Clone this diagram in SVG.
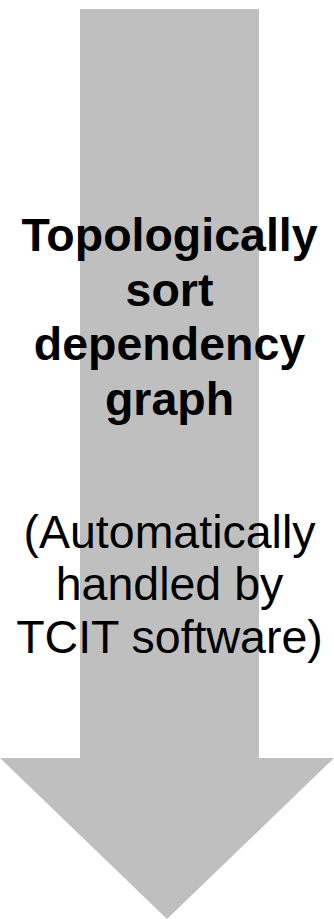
<svg xmlns="http://www.w3.org/2000/svg" width="334" height="919" viewBox="0 0 334 919">
  <style>
    .arrow { fill: #bfbfbf; }
    .label { font-family: "Liberation Sans", Arial, Helvetica, sans-serif; font-size: 46.5px; fill: #000; text-anchor: middle; }
    .bold { font-weight: bold; }
  </style>
  <g id="step-arrow">
    <polygon class="arrow" points="80,9 259,9 259,758 334,758 167,919 0,758 80,758"/>
  </g>
  <g id="step-label">
    <text class="label bold" x="169.5" y="251">Topologically</text>
    <text class="label bold" x="169.5" y="306">sort</text>
    <text class="label bold" x="169.5" y="360">dependency</text>
    <text class="label bold" x="169.5" y="415">graph</text>
    <text class="label" x="169.5" y="548">(Automatically</text>
    <text class="label" x="169.5" y="600">handled by</text>
    <text class="label" x="169.5" y="653">TCIT software)</text>
  </g>
</svg>
